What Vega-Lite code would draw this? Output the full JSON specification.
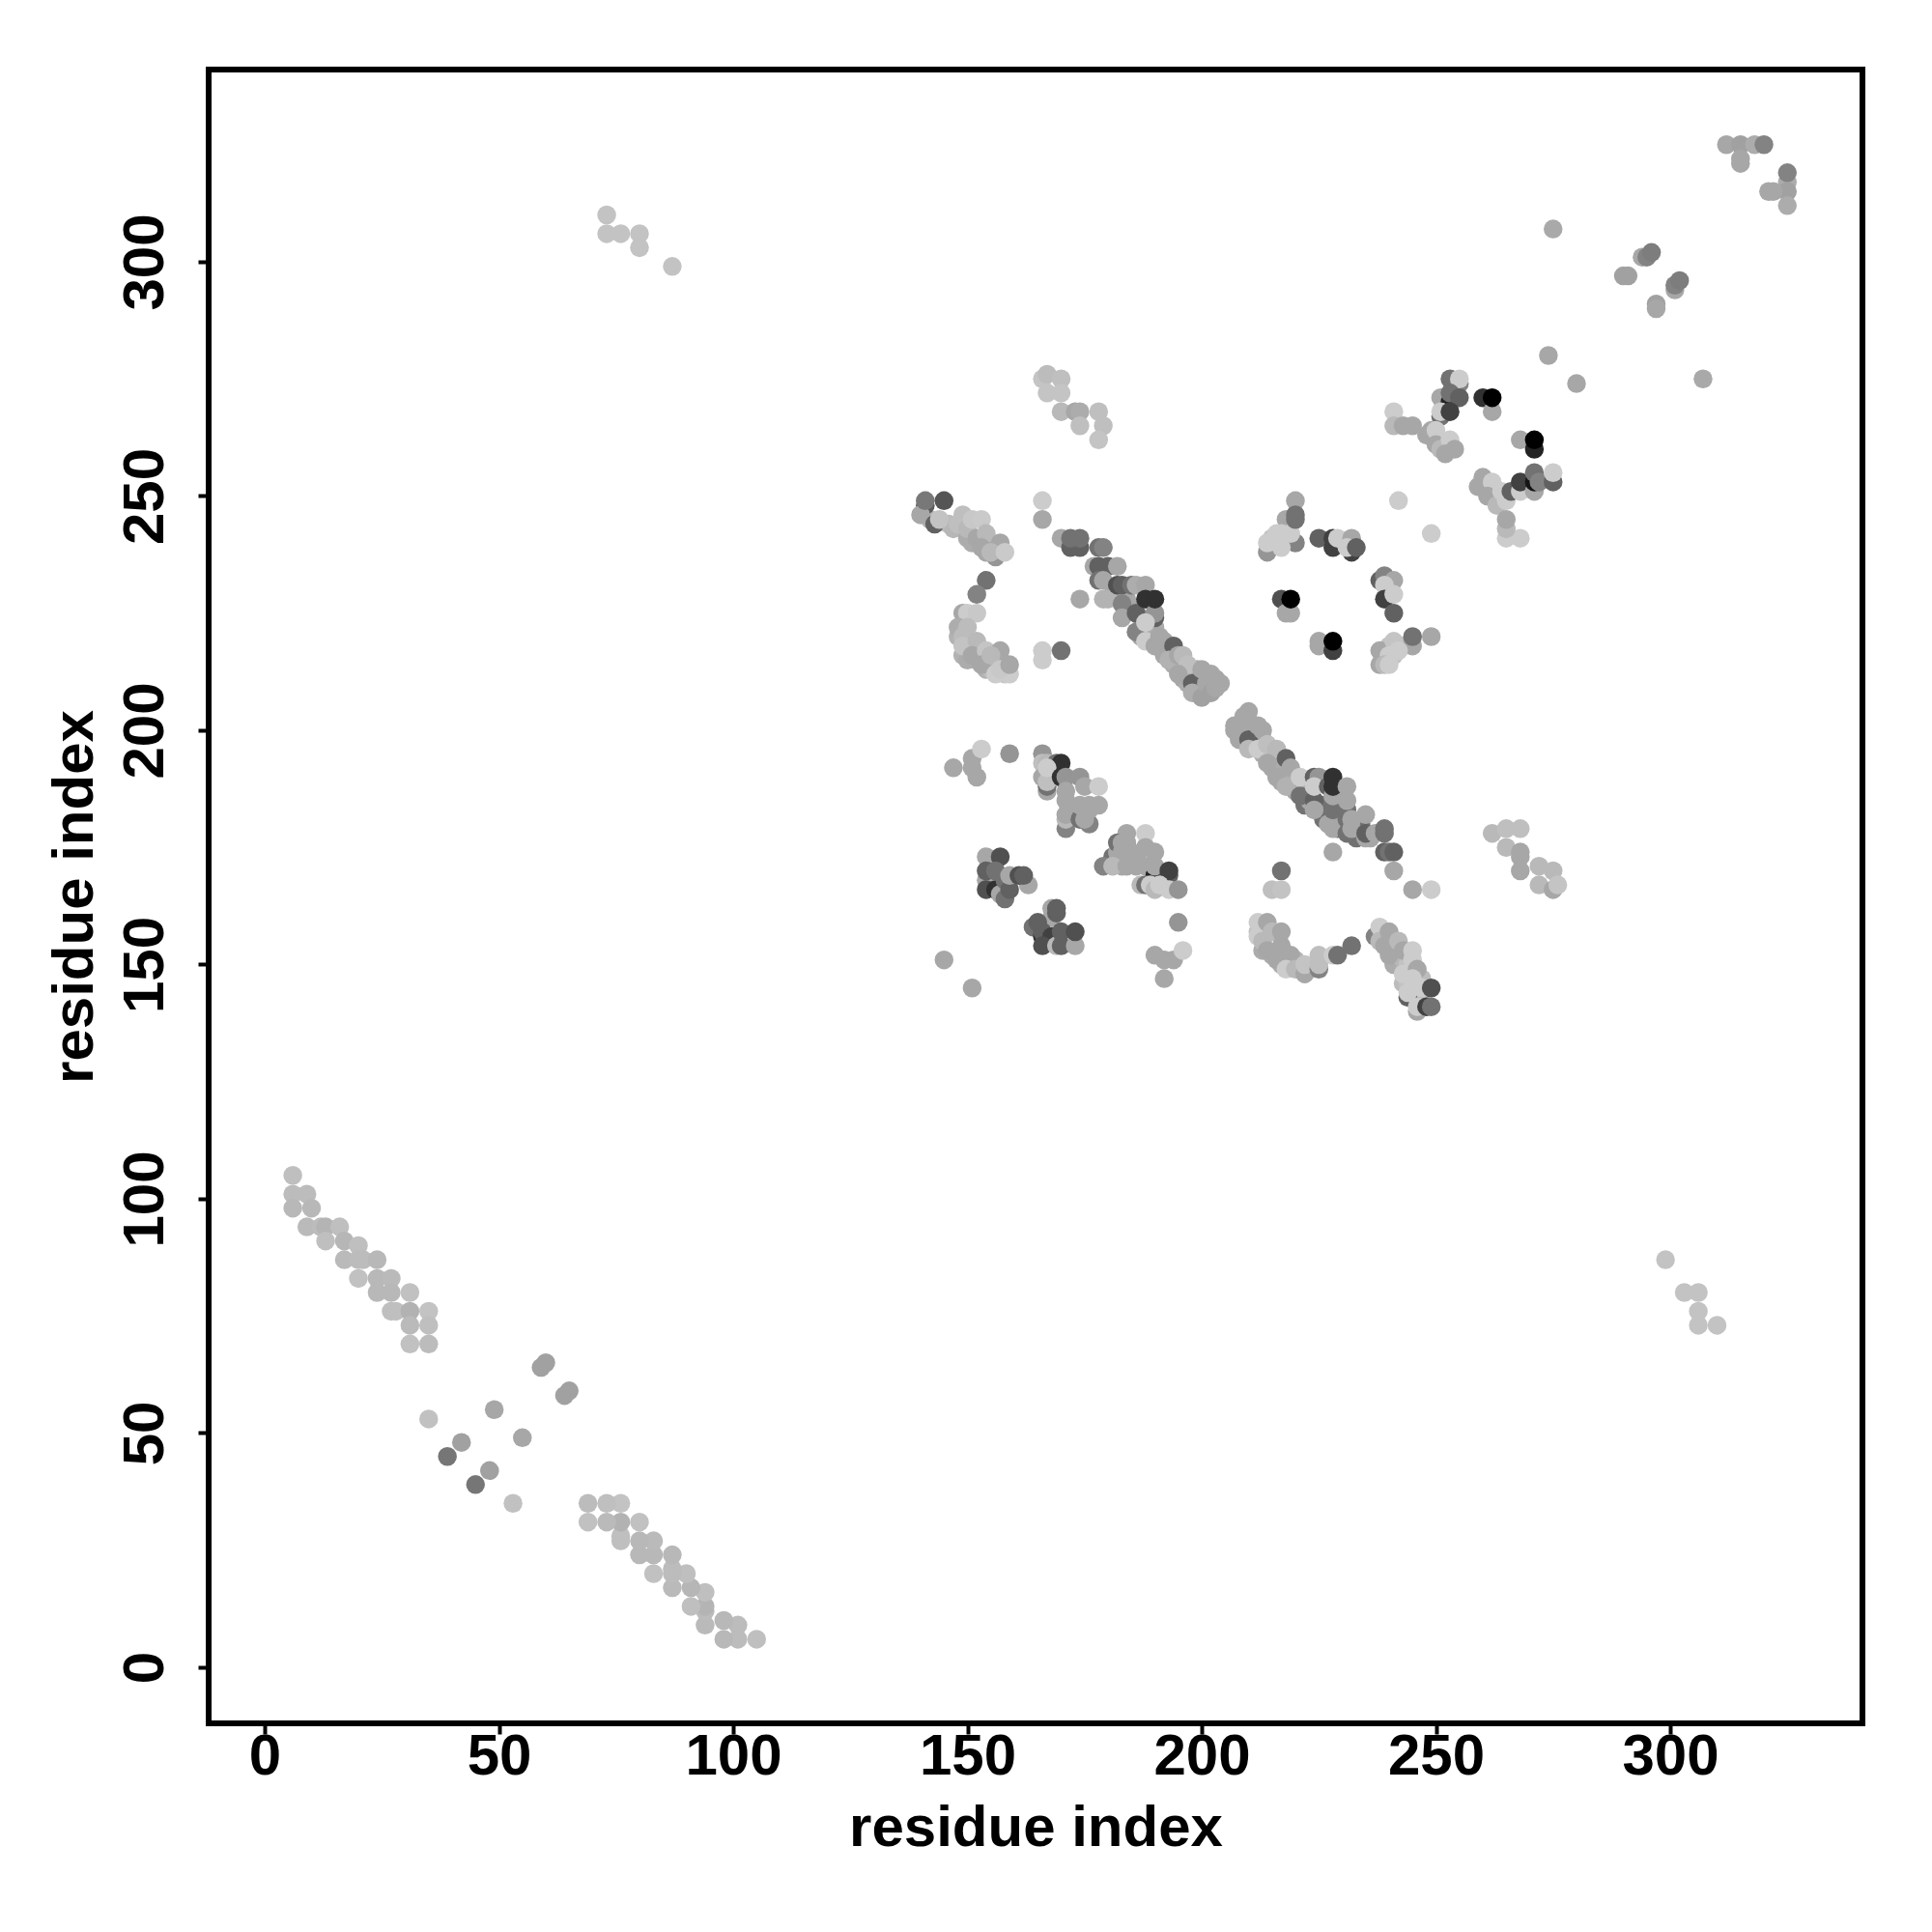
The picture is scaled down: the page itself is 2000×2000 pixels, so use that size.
{"$schema":"https://vega.github.io/schema/vega-lite/v6.json","width":1712,"height":1712,"autosize":"none","padding":{"left":216,"top":72,"right":72,"bottom":216},"background":"white","config":{"view":{"stroke":"black","strokeWidth":6,"fill":"white"}},
"data":{"values":[
{"x":181,"y":229,"g":170},{"x":184,"y":228,"g":170},{"x":185,"y":226,"g":170},{"x":187,"y":224,"g":180},{"x":188,"y":222,"g":180},{"x":189,"y":221,"g":190},{"x":187,"y":220,"g":170},{"x":190,"y":222,"g":175},{"x":191,"y":218,"g":175},{"x":192,"y":216,"g":170},{"x":193,"y":218,"g":170},{"x":194,"y":214,"g":175},{"x":196,"y":214,"g":180},{"x":197,"y":212,"g":175},{"x":198,"y":212,"g":175},{"x":196,"y":211,"g":170},{"x":197,"y":210,"g":175},{"x":199,"y":211,"g":170},{"x":199,"y":209,"g":170},{"x":200,"y":209,"g":170},{"x":201,"y":208,"g":170},{"x":201,"y":212,"g":170},{"x":203,"y":211,"g":170},{"x":199,"y":213,"g":175},{"x":202,"y":210,"g":170},
{"x":208,"y":200,"g":170},{"x":209,"y":199,"g":170},{"x":209,"y":201,"g":170},{"x":211,"y":199,"g":175},{"x":211,"y":197,"g":180},{"x":212,"y":199,"g":175},{"x":213,"y":198,"g":180},{"x":213,"y":195,"g":175},{"x":215,"y":195,"g":180},{"x":215,"y":192,"g":170},{"x":216,"y":193,"g":175},{"x":217,"y":191,"g":175},{"x":217,"y":189,"g":170},{"x":218,"y":191,"g":175},{"x":219,"y":189,"g":180},{"x":220,"y":188,"g":180},{"x":220,"y":187,"g":170},{"x":222,"y":186,"g":170},{"x":222,"y":184,"g":119},{"x":223,"y":187,"g":175},{"x":223,"y":185,"g":170},{"x":225,"y":183,"g":170},{"x":226,"y":181,"g":119},{"x":226,"y":184,"g":119},{"x":227,"y":180,"g":170},{"x":229,"y":179,"g":119},{"x":229,"y":181,"g":170},{"x":230,"y":180,"g":170},{"x":233,"y":177,"g":119},{"x":233,"y":180,"g":119},{"x":234,"y":180,"g":119},{"x":236,"y":177,"g":170},
{"x":142,"y":245,"g":180},{"x":146,"y":244,"g":190},{"x":147,"y":243,"g":185},{"x":149,"y":243,"g":185},{"x":150,"y":241,"g":175},{"x":151,"y":240,"g":175},{"x":154,"y":238,"g":170},{"x":155,"y":240,"g":170},{"x":148,"y":220,"g":180},{"x":149,"y":216,"g":180},{"x":150,"y":215,"g":175},{"x":152,"y":215,"g":175},{"x":154,"y":213,"g":180},{"x":155,"y":213,"g":190},{"x":158,"y":212,"g":200},{"x":157,"y":215,"g":185},
{"x":212,"y":157,"g":195},{"x":213,"y":157,"g":190},{"x":213,"y":153,"g":175},{"x":215,"y":152,"g":175},{"x":217,"y":150,"g":175},{"x":219,"y":150,"g":180},{"x":220,"y":151,"g":185},{"x":223,"y":149,"g":190},{"x":238,"y":157,"g":190},{"x":241,"y":154,"g":180},{"x":241,"y":150,"g":175},{"x":242,"y":152,"g":175},{"x":243,"y":151,"g":185},{"x":244,"y":150,"g":195},{"x":243,"y":146,"g":190},{"x":244,"y":146,"g":195},{"x":245,"y":149,"g":195},{"x":245,"y":145,"g":195},{"x":246,"y":143,"g":190},{"x":247,"y":142,"g":185},{"x":247,"y":147,"g":190},
{"x":215,"y":241,"g":195},{"x":216,"y":240,"g":195},{"x":218,"y":241,"g":195},{"x":240,"y":218,"g":195},{"x":241,"y":216,"g":195},{"x":239,"y":216,"g":190},{"x":243,"y":218,"g":185},{"x":173,"y":182,"g":170},{"x":175,"y":183,"g":170},{"x":176,"y":180,"g":136},{"x":181,"y":173,"g":119},{"x":182,"y":172,"g":170},{"x":182,"y":174,"g":170},{"x":185,"y":174,"g":170},{"x":185,"y":172,"g":170},{"x":186,"y":173,"g":170},{"x":183,"y":171,"g":170},
{"x":6,"y":105,"g":192},{"x":6,"y":101,"g":190},{"x":6,"y":98,"g":186},{"x":9,"y":101,"g":190},{"x":10,"y":98,"g":186},{"x":9,"y":94,"g":188},{"x":12,"y":94,"g":190},{"x":13,"y":94,"g":182},{"x":16,"y":94,"g":192},{"x":13,"y":91,"g":192},{"x":17,"y":91,"g":184},{"x":17,"y":87,"g":188},{"x":20,"y":90,"g":192},{"x":20,"y":87,"g":190},{"x":21,"y":87,"g":190},{"x":24,"y":87,"g":186},{"x":20,"y":83,"g":194},{"x":24,"y":83,"g":186},{"x":27,"y":83,"g":188},{"x":24,"y":80,"g":186},{"x":27,"y":80,"g":186},{"x":31,"y":80,"g":194},{"x":27,"y":76,"g":192},{"x":28,"y":76,"g":192},{"x":31,"y":76,"g":180},{"x":35,"y":76,"g":196},{"x":31,"y":73,"g":188},{"x":35,"y":73,"g":192},{"x":31,"y":69,"g":194},{"x":35,"y":69,"g":190},
{"x":105,"y":6,"g":192},{"x":101,"y":6,"g":190},{"x":98,"y":6,"g":186},{"x":101,"y":9,"g":190},{"x":98,"y":10,"g":186},{"x":94,"y":9,"g":188},{"x":94,"y":12,"g":190},{"x":94,"y":13,"g":182},{"x":94,"y":16,"g":192},{"x":91,"y":13,"g":192},{"x":91,"y":17,"g":184},{"x":87,"y":17,"g":188},{"x":90,"y":20,"g":192},{"x":87,"y":20,"g":190},{"x":87,"y":21,"g":190},{"x":87,"y":24,"g":186},{"x":83,"y":20,"g":194},{"x":83,"y":24,"g":186},{"x":83,"y":27,"g":188},{"x":80,"y":24,"g":186},{"x":80,"y":27,"g":186},{"x":80,"y":31,"g":194},{"x":76,"y":27,"g":192},{"x":76,"y":28,"g":192},{"x":76,"y":31,"g":180},{"x":76,"y":35,"g":196},{"x":73,"y":31,"g":188},{"x":73,"y":35,"g":192},{"x":69,"y":31,"g":194},{"x":69,"y":35,"g":190},
{"x":59,"y":64,"g":165},{"x":60,"y":65,"g":165},{"x":64,"y":58,"g":165},{"x":65,"y":59,"g":165},{"x":49,"y":55,"g":170},{"x":35,"y":53,"g":194},{"x":55,"y":49,"g":170},{"x":42,"y":48,"g":165},{"x":39,"y":45,"g":123},{"x":48,"y":42,"g":165},{"x":45,"y":39,"g":123},{"x":53,"y":35,"g":194},
{"x":73,"y":310,"g":196},{"x":73,"y":306,"g":196},{"x":76,"y":306,"g":196},{"x":80,"y":306,"g":196},{"x":80,"y":303,"g":196},{"x":87,"y":299,"g":196},{"x":299,"y":87,"g":196},{"x":303,"y":80,"g":196},{"x":306,"y":80,"g":196},{"x":306,"y":76,"g":196},{"x":306,"y":73,"g":196},{"x":310,"y":73,"g":196},
{"x":312,"y":325,"g":170},{"x":315,"y":325,"g":165},{"x":318,"y":325,"g":175},{"x":320,"y":325,"g":136},{"x":315,"y":322,"g":170},{"x":315,"y":321,"g":170},{"x":325,"y":317,"g":175},{"x":325,"y":315,"g":165},{"x":325,"y":312,"g":175},{"x":325,"y":319,"g":136},{"x":321,"y":315,"g":170},{"x":322,"y":315,"g":170},
{"x":275,"y":307,"g":172},{"x":307,"y":275,"g":172},{"x":294,"y":301,"g":170},{"x":295,"y":301,"g":136},{"x":296,"y":302,"g":130},{"x":290,"y":297,"g":165},{"x":291,"y":297,"g":165},{"x":301,"y":294,"g":170},{"x":301,"y":295,"g":136},{"x":302,"y":296,"g":130},{"x":297,"y":291,"g":165},{"x":297,"y":290,"g":170},{"x":274,"y":280,"g":170},{"x":280,"y":274,"g":170},
{"x":141,"y":248,"g":96},{"x":140,"y":246,"g":170},{"x":141,"y":249,"g":125},{"x":143,"y":244,"g":102},{"x":145,"y":249,"g":90},{"x":144,"y":245,"g":196},{"x":149,"y":246,"g":192},{"x":148,"y":244,"g":192},{"x":150,"y":243,"g":187},{"x":151,"y":245,"g":200},{"x":153,"y":245,"g":202},{"x":152,"y":241,"g":170},{"x":154,"y":242,"g":187},{"x":156,"y":237,"g":153},{"x":153,"y":239,"g":170},{"x":157,"y":240,"g":170},{"x":155,"y":238,"g":187},{"x":158,"y":238,"g":202},
{"x":154,"y":232,"g":119},{"x":152,"y":229,"g":136},{"x":149,"y":225,"g":170},{"x":150,"y":225,"g":204},{"x":152,"y":225,"g":200},{"x":148,"y":222,"g":176},{"x":150,"y":222,"g":190},{"x":149,"y":220,"g":190},{"x":149,"y":218,"g":196},{"x":152,"y":219,"g":187},{"x":151,"y":216,"g":170},{"x":154,"y":217,"g":197},{"x":157,"y":217,"g":170},{"x":153,"y":214,"g":170},{"x":155,"y":216,"g":187},{"x":156,"y":212,"g":204},{"x":159,"y":212,"g":204},{"x":157,"y":213,"g":200},{"x":159,"y":214,"g":170},
{"x":166,"y":249,"g":204},{"x":166,"y":245,"g":170},{"x":166,"y":217,"g":204},{"x":166,"y":215,"g":204},{"x":170,"y":217,"g":119},{"x":170,"y":241,"g":170},{"x":172,"y":239,"g":102},{"x":174,"y":239,"g":102},{"x":172,"y":241,"g":119},{"x":174,"y":241,"g":119},{"x":178,"y":239,"g":119},{"x":179,"y":239,"g":136},{"x":174,"y":228,"g":170},
{"x":177,"y":235,"g":170},{"x":178,"y":235,"g":102},{"x":180,"y":235,"g":102},{"x":182,"y":235,"g":170},{"x":178,"y":232,"g":119},{"x":179,"y":228,"g":181},{"x":180,"y":228,"g":181},{"x":179,"y":232,"g":170},{"x":182,"y":231,"g":85},{"x":183,"y":231,"g":102},{"x":185,"y":231,"g":119},{"x":186,"y":231,"g":176},{"x":188,"y":231,"g":170},{"x":183,"y":227,"g":136},{"x":183,"y":224,"g":170},{"x":186,"y":221,"g":136},{"x":186,"y":225,"g":102},{"x":188,"y":228,"g":51},{"x":190,"y":224,"g":102},{"x":190,"y":225,"g":153},{"x":190,"y":228,"g":51},{"x":188,"y":223,"g":204},{"x":188,"y":219,"g":204},{"x":190,"y":218,"g":170},{"x":191,"y":220,"g":170},{"x":192,"y":219,"g":170},{"x":194,"y":218,"g":102},{"x":193,"y":215,"g":180},{"x":195,"y":216,"g":170},{"x":196,"y":216,"g":187},{"x":197,"y":214,"g":192},{"x":195,"y":212,"g":170},{"x":198,"y":210,"g":102},{"x":198,"y":208,"g":176},{"x":200,"y":207,"g":165},{"x":200,"y":213,"g":170},{"x":202,"y":212,"g":170},{"x":201,"y":210,"g":170},{"x":202,"y":208,"g":165},{"x":203,"y":209,"g":170},{"x":204,"y":210,"g":170},
{"x":207,"y":200,"g":170},{"x":207,"y":201,"g":170},{"x":208,"y":198,"g":170},{"x":209,"y":203,"g":170},{"x":210,"y":204,"g":170},{"x":210,"y":202,"g":170},{"x":210,"y":198,"g":102},{"x":212,"y":201,"g":170},{"x":210,"y":196,"g":187},{"x":212,"y":196,"g":204},{"x":213,"y":200,"g":170},{"x":214,"y":197,"g":192},{"x":216,"y":196,"g":187},{"x":214,"y":193,"g":170},{"x":218,"y":194,"g":102},{"x":216,"y":190,"g":170},{"x":219,"y":192,"g":170},{"x":218,"y":188,"g":180},{"x":221,"y":186,"g":119},{"x":221,"y":190,"g":204},
{"x":224,"y":190,"g":102},{"x":225,"y":190,"g":153},{"x":224,"y":185,"g":102},{"x":224,"y":183,"g":170},{"x":224,"y":188,"g":204},{"x":227,"y":188,"g":102},{"x":228,"y":183,"g":119},{"x":228,"y":186,"g":170},{"x":228,"y":190,"g":51},{"x":228,"y":188,"g":51},{"x":228,"y":179,"g":170},{"x":231,"y":178,"g":119},{"x":231,"y":181,"g":119},{"x":231,"y":183,"g":119},{"x":231,"y":188,"g":170},{"x":231,"y":185,"g":170},{"x":232,"y":181,"g":170},{"x":232,"y":179,"g":170},{"x":235,"y":177,"g":170},{"x":235,"y":178,"g":102},{"x":235,"y":182,"g":170},{"x":237,"y":178,"g":170},{"x":239,"y":178,"g":119},{"x":239,"y":179,"g":119},{"x":239,"y":174,"g":102},{"x":240,"y":174,"g":119},{"x":241,"y":174,"g":102},{"x":241,"y":170,"g":170},{"x":228,"y":174,"g":170},{"x":217,"y":170,"g":119},{"x":215,"y":166,"g":192},{"x":217,"y":166,"g":196},{"x":245,"y":166,"g":170},{"x":249,"y":166,"g":204},
{"x":253,"y":275,"g":119},{"x":255,"y":274,"g":136},{"x":255,"y":275,"g":204},{"x":251,"y":271,"g":170},{"x":253,"y":270,"g":34},{"x":253,"y":272,"g":119},{"x":255,"y":271,"g":102},{"x":251,"y":267,"g":119},{"x":251,"y":268,"g":204},{"x":253,"y":268,"g":68},{"x":260,"y":271,"g":51},{"x":262,"y":268,"g":170},{"x":262,"y":271,"g":0},
{"x":241,"y":268,"g":204},{"x":241,"y":265,"g":187},{"x":243,"y":265,"g":170},{"x":245,"y":265,"g":170},{"x":248,"y":263,"g":170},{"x":249,"y":264,"g":170},{"x":250,"y":264,"g":204},{"x":250,"y":261,"g":170},{"x":251,"y":260,"g":187},{"x":253,"y":262,"g":204},{"x":252,"y":259,"g":170},{"x":254,"y":260,"g":170},
{"x":268,"y":262,"g":170},{"x":271,"y":260,"g":34},{"x":271,"y":262,"g":0},{"x":260,"y":254,"g":170},{"x":259,"y":252,"g":170},{"x":262,"y":253,"g":204},{"x":261,"y":250,"g":170},{"x":263,"y":248,"g":187},{"x":264,"y":251,"g":204},{"x":265,"y":249,"g":204},{"x":266,"y":251,"g":102},{"x":268,"y":251,"g":204},{"x":268,"y":253,"g":68},{"x":271,"y":251,"g":170},{"x":271,"y":253,"g":17},{"x":271,"y":255,"g":119},{"x":272,"y":253,"g":136},{"x":275,"y":253,"g":102},{"x":275,"y":255,"g":204},{"x":265,"y":241,"g":204},{"x":268,"y":241,"g":204},{"x":265,"y":243,"g":187},{"x":265,"y":245,"g":170},{"x":242,"y":249,"g":204},{"x":249,"y":242,"g":204},
{"x":220,"y":249,"g":170},{"x":218,"y":245,"g":170},{"x":220,"y":240,"g":136},{"x":214,"y":238,"g":153},{"x":214,"y":240,"g":204},{"x":216,"y":242,"g":204},{"x":217,"y":239,"g":204},{"x":217,"y":242,"g":204},{"x":219,"y":242,"g":204},{"x":220,"y":246,"g":119},{"x":220,"y":245,"g":119},
{"x":225,"y":241,"g":102},{"x":228,"y":239,"g":68},{"x":228,"y":241,"g":68},{"x":229,"y":241,"g":204},{"x":232,"y":238,"g":68},{"x":232,"y":241,"g":170},{"x":231,"y":239,"g":204},{"x":233,"y":239,"g":102},
{"x":238,"y":232,"g":102},{"x":239,"y":233,"g":136},{"x":241,"y":232,"g":170},{"x":239,"y":231,"g":204},{"x":239,"y":228,"g":68},{"x":241,"y":229,"g":204},{"x":241,"y":225,"g":102},{"x":217,"y":228,"g":85},{"x":218,"y":225,"g":170},{"x":219,"y":225,"g":170},{"x":219,"y":228,"g":0},{"x":225,"y":219,"g":170},{"x":225,"y":218,"g":170},{"x":228,"y":217,"g":68},{"x":228,"y":219,"g":0},
{"x":249,"y":220,"g":170},{"x":245,"y":218,"g":170},{"x":245,"y":220,"g":119},{"x":238,"y":214,"g":170},{"x":238,"y":217,"g":170},{"x":241,"y":219,"g":197},{"x":242,"y":217,"g":204},{"x":240,"y":216,"g":204},{"x":239,"y":214,"g":187},{"x":240,"y":214,"g":204},
{"x":147,"y":192,"g":170},{"x":151,"y":192,"g":170},{"x":151,"y":194,"g":170},{"x":153,"y":196,"g":204},{"x":152,"y":190,"g":170},{"x":159,"y":195,"g":153},{"x":166,"y":195,"g":153},{"x":166,"y":193,"g":192},{"x":167,"y":193,"g":187},{"x":169,"y":193,"g":119},{"x":170,"y":193,"g":51},{"x":167,"y":187,"g":170},{"x":167,"y":188,"g":119},{"x":166,"y":190,"g":170},{"x":167,"y":189,"g":192},{"x":167,"y":192,"g":204},{"x":170,"y":190,"g":51},{"x":171,"y":190,"g":153},{"x":174,"y":190,"g":153},{"x":175,"y":188,"g":170},{"x":178,"y":188,"g":204},{"x":171,"y":179,"g":136},{"x":171,"y":181,"g":187},{"x":171,"y":182,"g":170},{"x":171,"y":185,"g":170},{"x":171,"y":187,"g":170},{"x":174,"y":181,"g":119},{"x":175,"y":181,"g":170},{"x":174,"y":184,"g":170},{"x":176,"y":183,"g":170},{"x":176,"y":184,"g":170},{"x":178,"y":184,"g":170},
{"x":184,"y":178,"g":170},{"x":188,"y":178,"g":204},{"x":182,"y":176,"g":119},{"x":183,"y":176,"g":170},{"x":184,"y":176,"g":170},{"x":183,"y":174,"g":170},{"x":188,"y":175,"g":170},{"x":190,"y":174,"g":170},{"x":179,"y":171,"g":136},{"x":181,"y":171,"g":187},{"x":184,"y":171,"g":170},{"x":186,"y":171,"g":170},{"x":188,"y":171,"g":170},{"x":190,"y":169,"g":34},{"x":190,"y":171,"g":170},{"x":193,"y":169,"g":102},{"x":193,"y":170,"g":68},{"x":187,"y":167,"g":187},{"x":188,"y":167,"g":119},{"x":189,"y":167,"g":204},{"x":190,"y":166,"g":187},{"x":191,"y":167,"g":204},{"x":193,"y":166,"g":204},{"x":195,"y":166,"g":153},{"x":195,"y":159,"g":153},{"x":190,"y":152,"g":170},{"x":192,"y":151,"g":170},{"x":194,"y":151,"g":170},{"x":196,"y":153,"g":204},{"x":192,"y":147,"g":170},{"x":145,"y":151,"g":170},{"x":151,"y":145,"g":170},
{"x":154,"y":173,"g":170},{"x":157,"y":173,"g":85},{"x":154,"y":168,"g":170},{"x":154,"y":170,"g":102},{"x":154,"y":166,"g":85},{"x":156,"y":166,"g":51},{"x":156,"y":170,"g":119},{"x":157,"y":165,"g":170},{"x":158,"y":168,"g":119},{"x":158,"y":164,"g":119},{"x":159,"y":166,"g":102},{"x":159,"y":169,"g":170},{"x":163,"y":167,"g":170},{"x":161,"y":169,"g":85},{"x":162,"y":169,"g":102},
{"x":168,"y":162,"g":170},{"x":168,"y":160,"g":170},{"x":169,"y":161,"g":102},{"x":169,"y":162,"g":102},{"x":164,"y":158,"g":119},{"x":166,"y":156,"g":51},{"x":165,"y":159,"g":102},{"x":166,"y":157,"g":102},{"x":168,"y":156,"g":68},{"x":166,"y":154,"g":85},{"x":169,"y":154,"g":187},{"x":170,"y":157,"g":102},{"x":170,"y":154,"g":102},{"x":173,"y":154,"g":170},{"x":173,"y":157,"g":85},
{"x":212,"y":159,"g":204},{"x":212,"y":156,"g":204},{"x":213,"y":155,"g":187},{"x":214,"y":153,"g":170},{"x":214,"y":159,"g":170},{"x":215,"y":157,"g":187},{"x":217,"y":154,"g":170},{"x":216,"y":151,"g":170},{"x":217,"y":157,"g":170},{"x":219,"y":152,"g":170},{"x":218,"y":149,"g":204},{"x":220,"y":149,"g":187},{"x":222,"y":148,"g":170},{"x":222,"y":150,"g":197},{"x":225,"y":149,"g":136},{"x":225,"y":150,"g":192},{"x":225,"y":152,"g":192},{"x":228,"y":152,"g":204},{"x":229,"y":152,"g":119},{"x":232,"y":154,"g":119},
{"x":237,"y":156,"g":136},{"x":238,"y":158,"g":204},{"x":238,"y":155,"g":187},{"x":240,"y":157,"g":170},{"x":239,"y":154,"g":170},{"x":240,"y":152,"g":170},{"x":242,"y":155,"g":187},{"x":243,"y":153,"g":170},{"x":245,"y":153,"g":204},{"x":245,"y":151,"g":204},{"x":243,"y":148,"g":204},{"x":246,"y":149,"g":170},{"x":245,"y":147,"g":204},{"x":244,"y":143,"g":102},{"x":244,"y":144,"g":204},{"x":247,"y":145,"g":204},{"x":249,"y":145,"g":85},{"x":246,"y":140,"g":170},{"x":246,"y":141,"g":204},{"x":248,"y":141,"g":68},{"x":249,"y":141,"g":119},
{"x":262,"y":178,"g":187},{"x":265,"y":179,"g":192},{"x":268,"y":179,"g":192},{"x":265,"y":175,"g":187},{"x":268,"y":174,"g":170},{"x":268,"y":173,"g":170},{"x":268,"y":170,"g":170},{"x":272,"y":171,"g":187},{"x":275,"y":170,"g":187},{"x":272,"y":167,"g":187},{"x":275,"y":166,"g":170},{"x":276,"y":167,"g":197},
{"x":166,"y":275,"g":197},{"x":167,"y":276,"g":190},{"x":167,"y":272,"g":197},{"x":170,"y":275,"g":192},{"x":170,"y":272,"g":197},{"x":170,"y":268,"g":187},{"x":173,"y":268,"g":170},{"x":174,"y":268,"g":175},{"x":174,"y":265,"g":192},{"x":178,"y":268,"g":192},{"x":179,"y":265,"g":192},{"x":178,"y":262,"g":197}
]},
"mark":{"type":"circle","size":380,"opacity":1},
"encoding":{
"x":{"field":"x","type":"quantitative","scale":{"domain":[-11.96,341.03],"nice":false,"zero":false},"axis":{"values":[0,50,100,150,200,250,300],"grid":false,"domain":false,"tickColor":"black","tickWidth":4,"tickSize":11,"labelFont":"Liberation Sans","labelFontWeight":"bold","labelFontSize":60,"labelColor":"black","labelPadding":-6,"title":"residue index","titleFont":"Liberation Sans","titleFontWeight":"bold","titleFontSize":60,"titleColor":"black","titlePadding":15}},
"y":{"field":"y","type":"quantitative","scale":{"domain":[-11.96,341.03],"nice":false,"zero":false},"axis":{"values":[0,50,100,150,200,250,300],"grid":false,"domain":false,"tickColor":"black","tickWidth":4,"tickSize":11,"labelFont":"Liberation Sans","labelFontWeight":"bold","labelFontSize":60,"labelColor":"black","labelAngle":-90,"labelAlign":"center","labelBaseline":"bottom","labelPadding":24,"title":"residue index","titleFont":"Liberation Sans","titleFontWeight":"bold","titleFontSize":60,"titleColor":"black","titlePadding":12}},
"color":{"field":"g","type":"quantitative","scale":{"domain":[0,204],"range":["#000000","#cccccc"]},"legend":null}
}}
